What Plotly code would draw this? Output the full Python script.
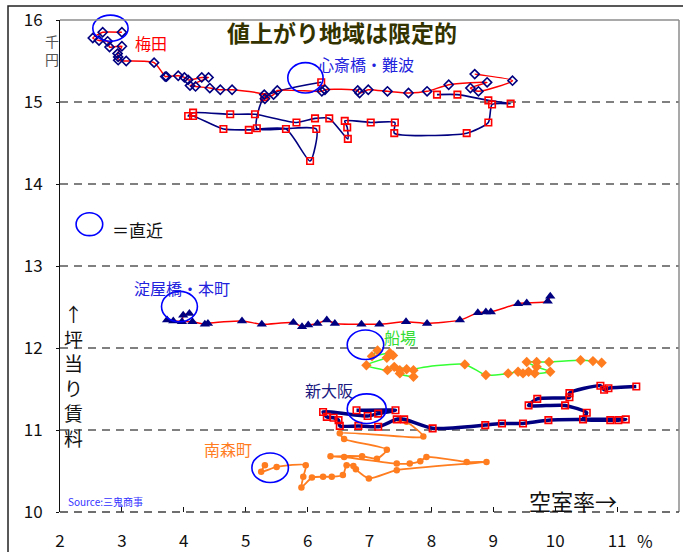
import plotly.graph_objects as go

FONT = "Noto Sans CJK JP, Noto Sans, sans-serif"

# x: 空室率 (%), y: 坪当り賃料 (千円) -- each path runs oldest -> latest
umeda_x = [8.70, 9.31, 8.76, 8.63, 8.90, 8.28, 7.93, 7.63, 7.29, 6.98, 6.84, 6.81, 6.28, 6.23,
           5.51, 5.45, 5.31, 5.30, 4.78, 4.59, 4.42, 4.19, 4.10, 4.40, 4.29, 4.07, 4.01, 3.91,
           3.72, 3.70, 3.52, 3.07, 2.94, 2.94, 2.93, 3.00, 2.80, 2.77, 2.63, 2.53, 2.69, 3.00]
umeda_y = [15.34, 15.26, 15.13, 15.17, 15.24, 15.21, 15.13, 15.11, 15.13, 15.15, 15.11, 15.14,
           15.15, 15.13, 15.14, 15.09, 15.04, 15.09, 15.15, 15.15, 15.17, 15.19, 15.20, 15.30,
           15.30, 15.27, 15.30, 15.32, 15.31, 15.31, 15.48, 15.50, 15.51, 15.55, 15.59, 15.68,
           15.67, 15.74, 15.75, 15.78, 15.85, 15.85]

shinsai_x = [8.09, 8.42, 8.92, 9.28, 8.98, 8.92, 8.57, 7.40, 7.41, 7.02, 6.60, 6.64, 6.65, 6.35,
             6.12, 5.82, 5.15, 4.75, 4.15, 4.07, 4.15, 4.64, 5.05, 5.65, 6.04, 6.14, 5.18, 5.30, 6.22]
shinsai_y = [15.09, 15.09, 15.02, 14.98, 14.97, 14.75, 14.62, 14.62, 14.75, 14.75, 14.77, 14.69,
             14.55, 14.80, 14.80, 14.75, 14.85, 14.85, 14.87, 14.83, 14.83, 14.67, 14.66, 14.67,
             14.28, 14.67, 14.68, 15.06, 15.24]

yodoya_x = [9.92, 9.88, 9.54, 9.40, 8.96, 8.88, 8.75, 8.46, 7.93, 7.59, 7.16, 6.87, 6.44, 6.31,
            6.16, 6.01, 5.91, 5.77, 5.26, 4.94, 4.39, 4.34, 4.14, 3.83, 3.73, 3.97, 3.99, 4.09]
yodoya_y = [12.63, 12.57, 12.55, 12.54, 12.44, 12.44, 12.43, 12.34, 12.30, 12.32, 12.29, 12.29,
            12.30, 12.34, 12.30, 12.28, 12.26, 12.31, 12.29, 12.33, 12.30, 12.29, 12.32, 12.33,
            12.34, 12.32, 12.40, 12.42]

semba_x = [10.75, 10.61, 10.41, 9.90, 9.70, 9.54, 9.70, 9.92, 9.67, 9.57, 9.48, 9.40, 9.24, 8.88,
           8.54, 7.71, 7.71, 7.49, 7.49, 7.60, 7.40, 7.29, 6.95, 7.28, 7.38, 7.33, 7.04, 7.13]
semba_y = [11.82, 11.84, 11.85, 11.83, 11.83, 11.83, 11.77, 11.71, 11.69, 11.71, 11.69, 11.71,
           11.69, 11.67, 11.80, 11.73, 11.65, 11.69, 11.73, 11.74, 11.77, 11.73, 11.79, 11.88,
           11.91, 11.94, 11.90, 11.97]

shinosaka_x = [11.31, 10.86, 10.79, 10.73, 10.23, 10.23, 9.71, 9.57, 10.16, 10.51, 10.45, 10.89,
               11.02, 11.14, 9.89, 9.48, 9.14, 8.87, 8.02, 7.56, 7.44, 7.14, 6.82, 6.52, 6.50,
               6.42, 6.31, 6.25, 6.97, 7.14, 7.42, 6.79]
shinosaka_y = [11.53, 11.51, 11.49, 11.54, 11.45, 11.40, 11.38, 11.30, 11.30, 11.21, 11.13, 11.12,
               11.12, 11.13, 11.12, 11.08, 11.08, 11.06, 11.02, 11.13, 11.13, 11.04, 11.05, 11.05,
               11.12, 11.15, 11.16, 11.22, 11.17, 11.20, 11.24, 11.24]

minami_x = [7.49, 7.60, 7.87, 6.52, 6.59, 7.28, 7.12, 6.88, 6.37, 6.59, 7.44, 7.65, 7.82, 7.92,
            8.57, 8.89, 7.44, 6.99, 6.78, 6.74, 6.63, 6.57, 6.39, 6.25, 6.07, 5.90, 5.93, 5.97,
            5.50, 5.25, 5.31]
minami_y = [11.13, 11.10, 10.92, 10.96, 10.89, 10.76, 10.65, 10.68, 10.68, 10.67, 10.59, 10.59,
            10.62, 10.67, 10.61, 10.61, 10.51, 10.41, 10.52, 10.56, 10.57, 10.45, 10.43, 10.43,
            10.42, 10.30, 10.43, 10.57, 10.55, 10.49, 10.57]

x_ticks = [2, 3, 4, 5, 6, 7, 8, 9, 10, 11, 12]
y_ticks = [10, 11, 12, 13, 14, 15, 16]
X_RANGE = [2, 12]
Y_RANGE = [10, 16]

# rings around the latest reading of each district: (x0, x1, y0, y1)
latest_rings = [
    (2.53, 3.10, 15.74, 16.06),
    (5.68, 6.25, 15.11, 15.48),
    (3.64, 4.22, 12.32, 12.69),
    (6.64, 7.23, 11.86, 12.22),
    (6.64, 7.27, 11.08, 11.44),
    (5.10, 5.69, 10.36, 10.72),
    (2.26, 2.69, 13.37, 13.65),
]

NAVY = "#000080"
RED = "#ff0000"
ORANGE = "#ff7c1f"
GREEN = "#33ff33"


def px_(v):
    return (v - X_RANGE[0]) / (X_RANGE[1] - X_RANGE[0])


def py_(v):
    return (v - Y_RANGE[0]) / (Y_RANGE[1] - Y_RANGE[0])


fig = go.Figure()

spl = dict(shape="spline", smoothing=0.6)

fig.add_trace(go.Scatter(x=shinsai_x, y=shinsai_y, mode="lines+markers", name="心斎橋・難波",
                         line=dict(color=NAVY, width=1.6, **spl),
                         marker=dict(symbol="square-open", size=6.5, color=RED, line=dict(width=1.6))))
fig.add_trace(go.Scatter(x=umeda_x, y=umeda_y, mode="lines+markers", name="梅田",
                         line=dict(color=RED, width=1.5, **spl),
                         marker=dict(symbol="diamond-open", size=7, color=NAVY, line=dict(width=1.6))))
fig.add_trace(go.Scatter(x=yodoya_x, y=yodoya_y, mode="lines+markers", name="淀屋橋・本町",
                         line=dict(color=RED, width=1.5, **spl),
                         marker=dict(symbol="triangle-up", size=9, color=NAVY)))
fig.add_trace(go.Scatter(x=semba_x, y=semba_y, mode="lines+markers", name="船場",
                         line=dict(color=GREEN, width=1.5, **spl),
                         marker=dict(symbol="diamond", size=8, color=ORANGE)))
fig.add_trace(go.Scatter(x=minami_x, y=minami_y, mode="lines+markers", name="南森町",
                         line=dict(color=ORANGE, width=1.8, **spl),
                         marker=dict(symbol="circle", size=6.5, color=ORANGE)))
fig.add_trace(go.Scatter(x=shinosaka_x, y=shinosaka_y, mode="lines+markers", name="新大阪",
                         line=dict(color=NAVY, width=3.5, **spl),
                         marker=dict(symbol="square-open", size=6.5, color=RED, line=dict(width=1.6))))

shapes = []
for x0, x1, y0, y1 in latest_rings:
    shapes.append(dict(type="circle", xref="paper", yref="paper",
                       x0=px_(x0), x1=px_(x1), y0=py_(y0), y1=py_(y1),
                       line=dict(color="#0000ff", width=1.6)))
# plot frame: grey top/right, dashed base line, outer border
shapes += [
    dict(type="line", xref="paper", yref="paper", x0=0, x1=1, y0=1, y1=1,
         line=dict(color="#8c8c8c", width=1.5)),
    dict(type="line", xref="paper", yref="paper", x0=1, x1=1, y0=0, y1=1,
         line=dict(color="#8c8c8c", width=1.5)),
    dict(type="line", xref="paper", yref="paper", x0=0, x1=1, y0=0, y1=0,
         line=dict(color="#404040", width=1.5, dash="8px,6px")),
    dict(type="rect", xref="paper", yref="paper", x0=-0.084, x1=1.02, y0=-0.1, y1=1.0285,
         line=dict(color="#222222", width=1.5)),
]

anns = [
    dict(x=6.55, y=15.85, text="<b>値上がり地域は限定的</b>", font=dict(size=23, color="#333300")),
    dict(x=3.47, y=15.72, text="梅田", font=dict(size=16, color=RED)),
    dict(x=6.94, y=15.46, text="心斎橋・難波", font=dict(size=16, color="#2222dd")),
    dict(x=3.97, y=12.73, text="淀屋橋・本町", font=dict(size=16, color="#2222dd")),
    dict(x=7.49, y=12.13, text="船場", font=dict(size=16, color="#33dd33")),
    dict(x=6.35, y=11.49, text="新大阪", font=dict(size=16, color="#1a1a80")),
    dict(x=4.71, y=10.77, text="南森町", font=dict(size=16, color=ORANGE)),
    dict(x=3.26, y=13.44, text="＝直近", font=dict(size=17, color="#111111")),
    dict(x=2.21, y=11.67, text="↑<br>坪<br>当<br>り<br>賃<br>料", font=dict(size=19, color="#111111")),
    dict(x=10.29, y=10.15, text="空室率→", font=dict(size=22, color="#111111")),
    dict(x=2.74, y=10.13, text="Source:三鬼商事", font=dict(size=10, color="#3333ff")),
    dict(x=11.45, y=-0.057, yref="paper", text="%", font=dict(size=17, color="#111111")),
    dict(x=-0.013, y=0.939, xref="paper", yref="paper", text="千<br>円",
         font=dict(size=14, color="#555555")),
]
for a in anns:
    a.setdefault("xref", "x")
    a.setdefault("yref", "y")
    a.update(showarrow=False, xanchor="center", yanchor="middle")
    a["font"]["family"] = FONT

fig.update_layout(
    width=683, height=552,
    margin=dict(l=60, r=4, t=20, b=40, autoexpand=False),
    paper_bgcolor="white", plot_bgcolor="white",
    showlegend=False,
    font=dict(family=FONT, color="#111111"),
    shapes=shapes,
    annotations=anns,
    xaxis=dict(range=X_RANGE, tickvals=x_ticks, ticks="inside", ticklen=5, tickcolor="#111111",
               showgrid=False, showline=False, zeroline=False, automargin=False,
               tickfont=dict(size=17), ticklabelstandoff=17),
    yaxis=dict(range=Y_RANGE, tickvals=y_ticks, ticktext=[str(v) for v in y_ticks],
               ticks="outside", ticklen=3, tickcolor="#111111",
               showline=True, linecolor="#111111", linewidth=1, zeroline=False, automargin=False,
               showgrid=True, gridcolor="#808080", gridwidth=1.5, griddash="8px,6px",
               tickfont=dict(size=17, color="#111111"), ticklabelstandoff=10),
)

fig.write_html("out.html")
